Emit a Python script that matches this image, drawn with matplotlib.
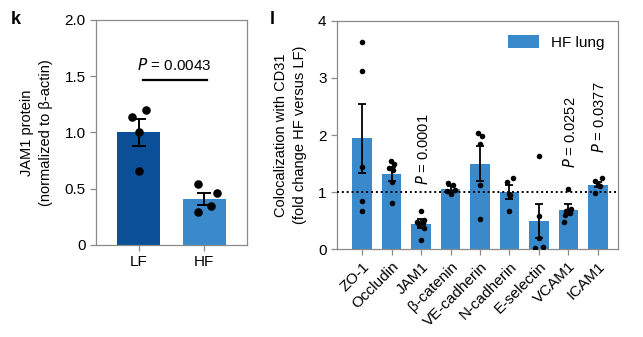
import matplotlib
matplotlib.use("Agg")
import matplotlib.pyplot as plt
import numpy as np

plt.rcParams['font.family'] = ['Liberation Sans', 'DejaVu Sans']
plt.rcParams['font.size'] = 10.5

# panel k: JAM1 western blot quantification
groups = ["LF", "HF"]
jam1_mean = [1.00, 0.41]
jam1_sem = [0.12, 0.055]
jam1_points = [
    [1.14, 1.20, 1.00, 0.66],
    [0.54, 0.46, 0.35, 0.29],
]
jam1_offsets = [[-0.1, 0.11, 0.0, 0.0], [-0.1, 0.2, 0.11, -0.1]]

# panel l: colocalization with CD31
markers = ["ZO-1", "Occludin", "JAM1", "β-catenin", "VE-cadherin",
           "N-cadherin", "E-selectin", "VCAM1", "ICAM1"]
coloc_mean = [1.94, 1.31, 0.44, 1.06, 1.50, 1.00, 0.49, 0.69, 1.13]
coloc_sem = [0.60, 0.12, 0.08, 0.04, 0.30, 0.12, 0.30, 0.10, 0.05]
coloc_points = [
    [3.63, 3.12, 1.44, 0.85, 0.66],
    [1.55, 1.50, 1.42, 1.38, 1.18, 0.81],
    [0.67, 0.51, 0.48, 0.46, 0.42, 0.36, 0.16],
    [1.15, 1.12, 1.04, 1.02, 0.96],
    [2.03, 1.99, 1.84, 1.12, 0.53],
    [1.24, 1.18, 0.96, 0.95, 0.67],
    [1.63, 0.58, 0.20, 0.03, 0.02],
    [1.05, 0.70, 0.66, 0.63, 0.60, 0.48],
    [1.25, 1.19, 1.12, 1.10, 0.99],
]
coloc_offsets = [
    [0.0, 0.0, 0.0, 0.0, 0.0],
    [-0.02, 0.1, -0.1, 0.05, 0.0, 0.0],
    [0.0, 0.1, -0.12, 0.05, -0.08, 0.1, 0.0],
    [-0.1, 0.1, 0.15, -0.12, 0.02],
    [-0.06, 0.08, 0.0, 0.0, 0.0],
    [0.12, -0.08, -0.02, 0.02, 0.0],
    [0.0, 0.0, 0.0, 0.12, -0.12],
    [0.0, 0.08, -0.08, 0.04, -0.12, -0.15],
    [0.15, -0.1, 0.0, 0.08, -0.1],
]
p_labels = {2: "0.0001", 7: "0.0252", 8: "0.0377"}
p_label_y = {2: 1.12, 7: 1.42, 8: 1.68}

dark_blue = "#0b4f98"
light_blue = "#3a8acb"
spine_col = "#8a8a8a"

fig = plt.figure(figsize=(6.43, 3.37), dpi=100)

# ---- k ----
ax1 = fig.add_axes([0.1493, 0.273, 0.2348, 0.6677])
x1 = np.arange(len(groups))
ax1.bar(x1, jam1_mean, width=0.66, color=[dark_blue, light_blue], zorder=1)
ax1.errorbar(x1, jam1_mean, yerr=jam1_sem, fmt="none", ecolor="black",
             elinewidth=1.4, capsize=5, capthick=1.4, zorder=2)
for i, pts in enumerate(jam1_points):
    ax1.scatter(x1[i] + np.array(jam1_offsets[i]), pts, s=38, color="black",
                zorder=3, linewidths=0)
ax1.plot([0.06, 1.04], [1.47, 1.47], color="black", lw=1.6)
ax1.text(0.55, 1.53, "$P$ = 0.0043", ha="center", va="bottom", fontsize=11)
ax1.set_xlim(-0.66, 1.66)
ax1.set_ylim(0, 2.0)
ax1.set_yticks([0, 0.5, 1.0, 1.5, 2.0])
ax1.set_yticklabels(["0", "0.5", "1.0", "1.5", "2.0"])
ax1.set_xticks(x1)
ax1.set_xticklabels(groups)
ax1.set_ylabel("JAM1 protein\n(normalized to β-actin)", labelpad=8, fontsize=10.5,
               linespacing=1.45)

# ---- l ----
ax2 = fig.add_axes([0.5241, 0.2611, 0.437, 0.6766])
x2 = np.arange(len(markers))
ax2.bar(x2, coloc_mean, width=0.65, color=light_blue, label="HF lung", zorder=1)
ax2.errorbar(x2, coloc_mean, yerr=coloc_sem, fmt="none", ecolor="black",
             elinewidth=1.3, capsize=3, capthick=1.3, zorder=2)
for i, pts in enumerate(coloc_points):
    ax2.scatter(x2[i] + np.array(coloc_offsets[i]), pts, s=16, color="black",
                zorder=3, linewidths=0)
ax2.axhline(1.0, color="black", ls=(0, (1, 1.5)), lw=1.4, zorder=4)
for i, p in p_labels.items():
    ax2.text(x2[i] + 0.05, p_label_y[i], f"$P$ = {p}", rotation=90,
             ha="center", va="bottom", fontsize=10.5)
ax2.set_xlim(-0.85, 8.68)
ax2.set_ylim(0, 4)
ax2.set_yticks([0, 1, 2, 3, 4])
ax2.set_xticks(x2)
ax2.set_xticklabels(markers, rotation=45, ha="right", rotation_mode="anchor")
ax2.set_ylabel("Colocalization with CD31\n(fold change HF versus LF)", labelpad=8,
               fontsize=10.5, linespacing=1.45)
ax2.legend(loc="upper right", frameon=False, handlelength=2.0, handleheight=1.0,
           fontsize=11, borderaxespad=0.5)

for ax in (ax1, ax2):
    for s in ax.spines.values():
        s.set_color(spine_col)
        s.set_linewidth(0.9)
    ax.tick_params(axis="both", color=spine_col, length=4, width=0.9,
                   labelsize=11)

fig.text(0.016, 0.93, "k", fontsize=13, fontweight="bold")
fig.text(0.42, 0.93, "l", fontsize=13, fontweight="bold")

fig.savefig("out.png", dpi=100)
